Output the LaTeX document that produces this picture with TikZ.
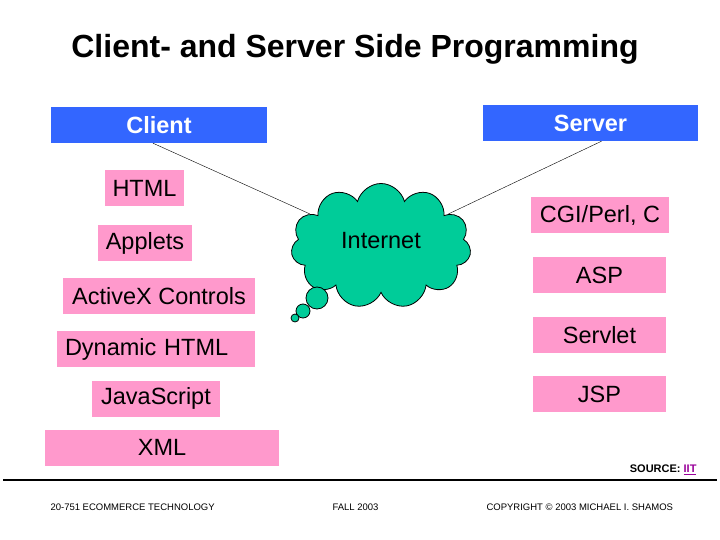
\documentclass[tikz,border=0pt]{standalone}
\usepackage{fontspec}
\setmainfont{Liberation Sans}
\usepackage{xcolor}
\usetikzlibrary{shapes.symbols}
\definecolor{sideblue}{HTML}{3366FF}
\definecolor{techpink}{HTML}{FF99CC}
\definecolor{netgreen}{HTML}{00CC99}
\definecolor{linkpurple}{HTML}{990099}

\begin{document}
\begin{tikzpicture}[x=1pt,y=-1pt]
\tikzstyle{bbox}=[fill=sideblue,text=white,font=\fontsize{23.5}{28}\selectfont\bfseries,minimum height=36pt,inner sep=0pt]
\tikzstyle{pbox}=[fill=techpink,font=\fontsize{23.5}{28}\selectfont,minimum height=36pt,inner sep=0pt]
\tikzstyle{bubble}=[circle,draw,line width=0.8pt,fill=netgreen,inner sep=0pt]
\tikzstyle{foot}=[font=\fontsize{9.5}{11}\selectfont,anchor=west]
\useasboundingbox (0,0) rectangle (720,540);
\node[font=\fontsize{32}{38}\selectfont\bfseries] (title) at (355,49) {Client- and Server Side Programming};
% the two sides
\node[bbox,minimum width=216pt] (client) at (159,125) {Client};
\node[bbox,minimum width=215pt] (server) at (590.5,123) {Server};
% client side technologies
\node[pbox,minimum width=79pt] (html) at (144.5,188.5) {HTML};
\node[pbox,minimum width=94pt] (applets) at (145,243) {Applets};
\node[pbox,minimum width=192pt] (activex) at (159,296) {ActiveX Controls};
\node[pbox,text width=182pt,align=left,inner xsep=8pt] (dhtml) at (156,349) {Dynamic HTML};
\node[pbox,minimum width=128pt] (jscript) at (156,398.5) {JavaScript};
\node[pbox,minimum width=234pt] (xml) at (162,447.5) {XML};
% server side technologies
\node[pbox,minimum width=138pt] (cgi) at (600,215) {CGI/Perl, C};
\node[pbox,minimum width=133pt] (asp) at (599.5,275) {ASP};
\node[pbox,minimum width=133pt] (servlet) at (599.5,335) {Servlet};
\node[pbox,minimum width=133pt] (jsp) at (599.5,394) {JSP};
% internet cloud
\node[cloud,cloud puffs=11,cloud ignores aspect,draw,line width=0.8pt,fill=netgreen,minimum width=180pt,minimum height=125pt,font=\fontsize{23.5}{28}\selectfont] (inet) at (381,246) {\raisebox{12pt}{Internet}};
\node[bubble,minimum size=22pt] (b1) at (317,298) {};
\node[bubble,minimum size=14pt] (b2) at (303,311) {};
\node[bubble,minimum size=8pt] (b3) at (295,318) {};
\draw ([xshift=-6pt]client.south) -- (inet);
\draw ([xshift=11pt]server.south) -- (inet);
% footer
\node[font=\fontsize{11}{13}\selectfont\bfseries,anchor=east] (source) at (700,470) {SOURCE: \textcolor{linkpurple}{\underline{IIT}}};
\coordinate (rl) at (3,480);
\coordinate (rr) at (717,480);
\draw[line width=2.5pt] (rl) -- (rr);
\node[foot] (course) at (47,507) {20-751 ECOMMERCE TECHNOLOGY};
\node[foot] (term) at (329,507) {FALL 2003};
\node[foot] (copy) at (483,507) {COPYRIGHT © 2003 MICHAEL I. SHAMOS};
\end{tikzpicture}
\end{document}
